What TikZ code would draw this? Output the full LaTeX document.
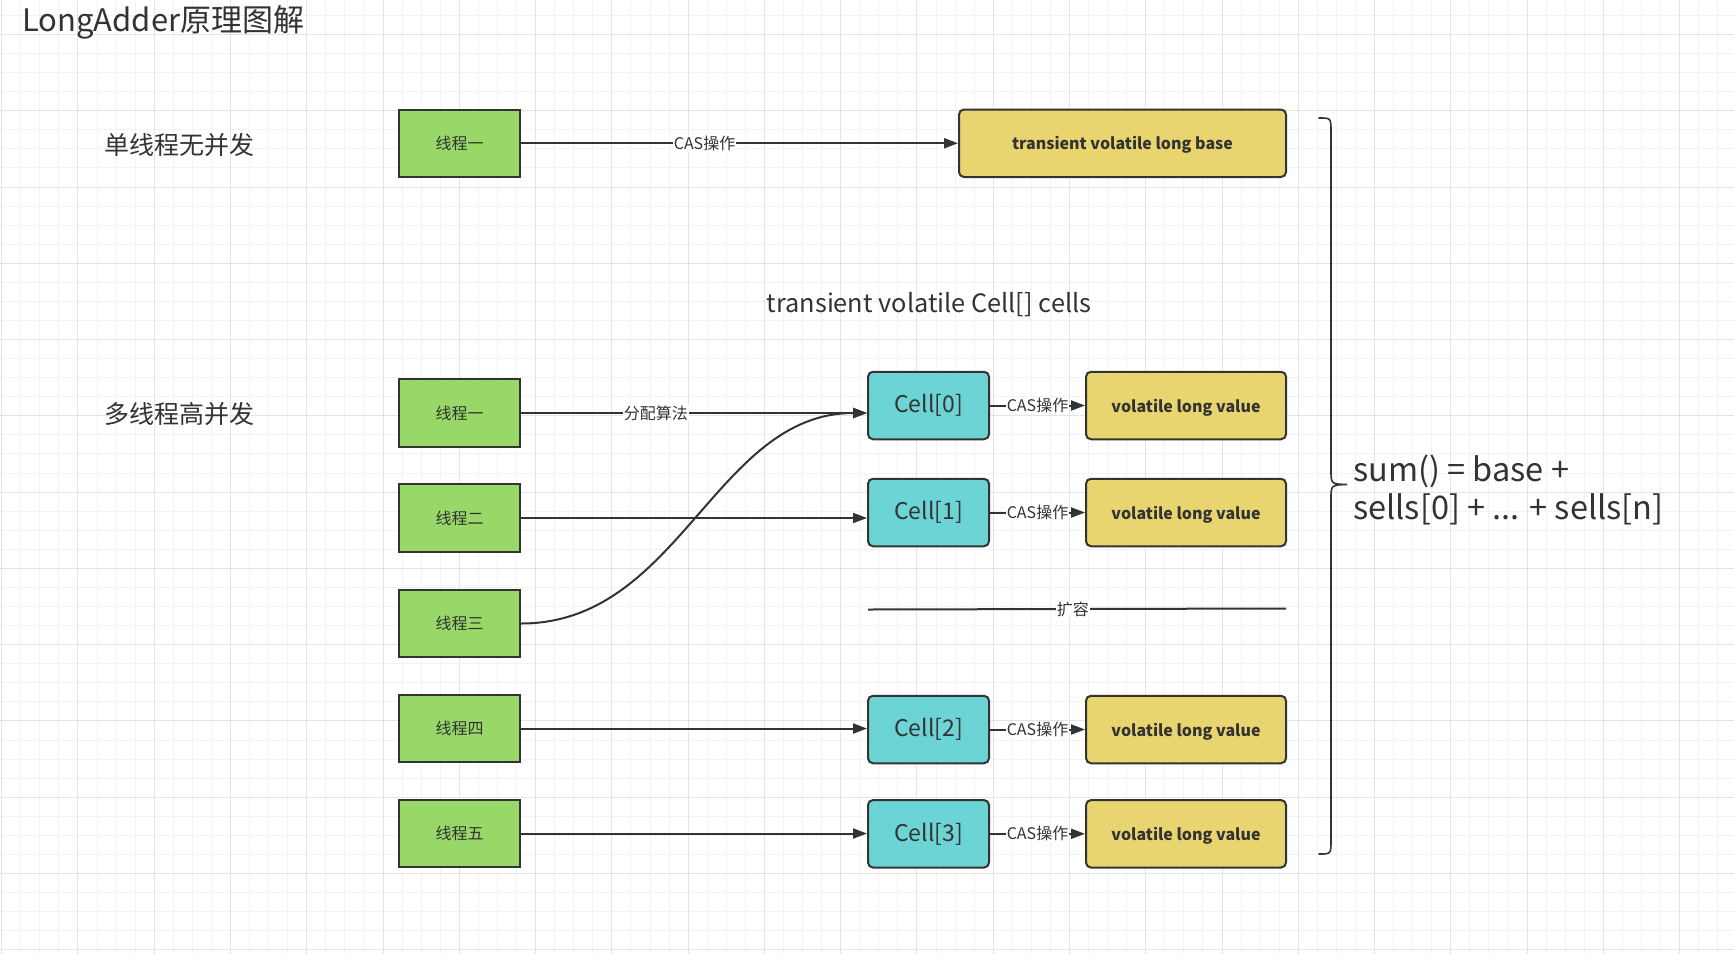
\documentclass[tikz,border=0pt]{standalone}
\usepackage{fontspec}
\setmainfont{Noto Sans CJK SC}
\usetikzlibrary{arrows.meta}

\definecolor{gridmajor}{HTML}{E4E4E4}
\definecolor{gridminor}{HTML}{F3F3F3}
\definecolor{ink}{HTML}{333333}
\definecolor{threadgreen}{HTML}{97D869}
\definecolor{cellcyan}{HTML}{6CD4D4}
\definecolor{valueyellow}{HTML}{E8D56F}

\tikzset{
  thread/.style={draw=ink, line width=2pt, fill=threadgreen, text=ink,
    minimum width=121pt, minimum height=67.5pt, inner sep=0pt,
    font=\fontsize{16}{18}\selectfont},
  cellbox/.style={draw=ink, line width=2pt, fill=cellcyan, text=ink,
    rounded corners=5pt, minimum width=121pt, minimum height=67.5pt, inner sep=0pt,
    font=\fontsize{23}{26}\selectfont},
  valuebox/.style={draw=ink, line width=2pt, fill=valueyellow, text=ink,
    rounded corners=5pt, minimum width=200pt, minimum height=67.5pt, inner sep=0pt,
    text depth=0pt, font=\bfseries\fontsize{16}{18}\selectfont},
  conn/.style={draw=ink, line width=2pt, -{Triangle[length=14pt,width=10pt]}},
  lbl/.style={fill=white, inner sep=1pt, text=ink, font=\fontsize{16}{18}\selectfont},
  heading/.style={text=ink, inner sep=0pt},
}

\begin{document}
\begin{tikzpicture}[x=1pt,y=-1pt]
\useasboundingbox (0,0) rectangle (1734,954);
\fill[white] (0,0) rectangle (1734,954);

% background grid: fine lines every 19.07, heavier every 76.27
\foreach \k in {0,...,91}
  \draw[gridminor, line width=1pt] ({1.7+19.0675*\k},0) -- ({1.7+19.0675*\k},954);
\foreach \k in {-2,...,48}
  \draw[gridminor, line width=1pt] (0,{34.5+19.0675*\k}) -- (1734,{34.5+19.0675*\k});
\foreach \k in {0,...,22}
  \draw[gridmajor, line width=1pt] ({1.7+76.27*\k},0) -- ({1.7+76.27*\k},954);
\foreach \k in {-1,...,12}
  \draw[gridmajor, line width=1pt] (0,{34.5+76.27*\k}) -- (1734,{34.5+76.27*\k});

% headings
\node[heading, anchor=west, font=\fontsize{31}{34}\selectfont] (title) at (22,22) {LongAdder原理图解};
\node[heading, font=\fontsize{25}{28}\selectfont] (single) at (179.5,145) {单线程无并发};
\node[heading, font=\fontsize{25}{28}\selectfont] (multi) at (179.5,414) {多线程高并发};
\node[heading, font=\fontsize{25.3}{28}\selectfont] (cellsarr) at (929,305) {transient volatile Cell[] cells};

% single thread path
\node[thread] (t0) at (459.5,143.25) {线程一};
\node[valuebox, minimum width=327pt] (base) at (1122.5,143.25) {transient volatile long base};
\draw[conn] (t0) -- node[lbl, pos=0.42] {CAS操作} (base);

% threads under contention
\node[thread] (t1) at (459.5,413) {线程一};
\node[thread] (t2) at (459.5,518) {线程二};
\node[thread] (t3) at (459.5,623.5) {线程三};
\node[thread] (t4) at (459.5,728.5) {线程四};
\node[thread] (t5) at (459.5,833.5) {线程五};

% cells and their values
\node[cellbox] (c0) at (928.5,405.5) {Cell[0]};
\node[cellbox] (c1) at (928.5,512.5) {Cell[1]};
\node[cellbox] (c2) at (928.5,729.5) {Cell[2]};
\node[cellbox] (c3) at (928.5,833.8) {Cell[3]};
\node[valuebox] (v0) at (1186,405.5) {volatile long value};
\node[valuebox] (v1) at (1186,512.5) {volatile long value};
\node[valuebox] (v2) at (1186,729.5) {volatile long value};
\node[valuebox] (v3) at (1186,833.8) {volatile long value};

% thread -> cell assignment
\coordinate (c0in) at (c0.west |- t1.east);
\coordinate (c1in) at (c1.west |- t2.east);
\draw[conn] (t1.east) -- node[lbl, pos=0.39] {分配算法} (c0in);
\draw[conn] (t2.east) -- (c1in);
\draw[conn] (t3.east) .. controls (680,623.5) and (715,413) .. (c0in);
\draw[conn] (t4.east) -- (t4.east -| c2.west);
\draw[conn] (t5.east) -- (t5.east -| c3.west);

% CAS on each cell value
\foreach \n in {0,1,2,3}
  \draw[conn] (c\n) -- node[lbl, inner sep=0.5pt] {CAS操作} (v\n);

% resize divider
\coordinate (growL) at (868,609.5);
\coordinate (growR) at (1286,608.5);
\draw[ink, line width=2pt] (growL) -- node[lbl, pos=0.49] {扩容} (growR);

% brace gathering everything into sum()
\draw[ink, line width=1.6pt, line cap=round]
  (1319,118) .. controls (1331,118) .. (1331,132) -- (1331,470)
  .. controls (1331,484) .. (1347,484.5)
  .. controls (1331,485) .. (1331,499) -- (1331,840)
  .. controls (1331,854) .. (1319,854);
\node[heading, anchor=west, align=left, font=\fontsize{32.5}{38.7}\selectfont] (sum) at (1353,490)
  {sum() = base +\\sells[0] + ... + sells[n]};
\end{tikzpicture}
\end{document}
